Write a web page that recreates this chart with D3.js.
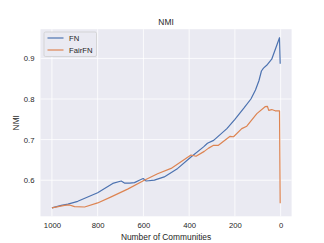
<!DOCTYPE html>
<html>
<head>
<meta charset="utf-8">
<script src="https://cdn.jsdelivr.net/npm/d3@7"></script>
<style>
  body { margin: 0; background: #fff; }
  text { font-family: "Liberation Sans", Arial, sans-serif; fill: #262626; }
</style>
</head>
<body>
<div id="chart"></div>
<script>
var fnX = [1000, 959, 930, 887, 800, 734, 697, 683, 660, 639, 618, 601, 588, 552, 509, 450, 392, 337, 320, 293, 235, 200, 160, 130, 110, 95, 84, 75, 61, 39, 5, 2],
    fnY = [0.532, 0.538, 0.541, 0.548, 0.569, 0.592, 0.598, 0.593, 0.593, 0.594, 0.600, 0.604, 0.598, 0.600, 0.608, 0.629, 0.657, 0.682, 0.691, 0.698, 0.727, 0.750, 0.778, 0.800, 0.822, 0.845, 0.869, 0.876, 0.883, 0.898, 0.951, 0.887];

var fairX = [1000, 945, 923, 901, 857, 800, 741, 669, 596, 538, 479, 392, 370, 334, 315, 293, 272, 221, 206, 170, 148, 104, 68, 58, 52, 39, 24, 5, 2],
    fairY = [0.532, 0.538, 0.539, 0.535, 0.534, 0.544, 0.559, 0.578, 0.600, 0.616, 0.629, 0.662, 0.659, 0.671, 0.679, 0.686, 0.686, 0.708, 0.707, 0.727, 0.733, 0.764, 0.781, 0.782, 0.772, 0.774, 0.771, 0.771, 0.543];

var xTicks = [1000, 800, 600, 400, 200, 0],
    yTicks = [0.6, 0.7, 0.8, 0.9];

var seriesNames = ["FN", "FairFN"],
    colors = ["#4C72B0", "#DD8452"];

var W = 324, H = 243,
    plotL = 40.5, plotR = 291.6, plotT = 29.2, plotB = 216.3;

var svg = d3.select("#chart").append("svg")
    .attr("width", W)
    .attr("height", H);

// 5% padding like matplotlib
var allX = fnX.concat(fairX), allY = fnY.concat(fairY);
var xe = d3.extent(allX), ye = d3.extent(allY);
var xp = (xe[1] - xe[0]) * 0.05, yp = (ye[1] - ye[0]) * 0.05;

var x = d3.scaleLinear().domain([xe[1] + xp, xe[0] - xp]).range([plotL, plotR]);
var y = d3.scaleLinear().domain([ye[0] - yp, ye[1] + yp]).range([plotB, plotT]);

svg.append("rect")
    .attr("x", plotL).attr("y", plotT)
    .attr("width", plotR - plotL).attr("height", plotB - plotT)
    .attr("fill", "#EAEAF2");

// grid
svg.append("g").selectAll("line")
    .data(xTicks).enter().append("line")
    .attr("x1", d => x(d)).attr("x2", d => x(d))
    .attr("y1", plotT).attr("y2", plotB)
    .attr("stroke", "#fff").attr("stroke-width", 0.8);

svg.append("g").selectAll("line")
    .data(yTicks).enter().append("line")
    .attr("y1", d => y(d)).attr("y2", d => y(d))
    .attr("x1", plotL).attr("x2", plotR)
    .attr("stroke", "#fff").attr("stroke-width", 0.8);

// axes (labels only)
var xAxis = svg.append("g")
    .attr("transform", "translate(0," + plotB + ")")
    .call(d3.axisBottom(x).tickValues(xTicks).tickSize(0).tickPadding(6).tickFormat(d3.format("d")));
var yAxis = svg.append("g")
    .attr("transform", "translate(" + plotL + ",0)")
    .call(d3.axisLeft(y).tickValues(yTicks).tickSize(0).tickPadding(6).tickFormat(d3.format(".1f")));
[xAxis, yAxis].forEach(function(a) {
    a.select(".domain").remove();
    a.selectAll("text").style("font-size", "7.7px").attr("fill", "#262626")
        .style("font-family", "'Liberation Sans', Arial, sans-serif");
});

var line = d3.line()
    .x(d => x(d[0]))
    .y(d => y(d[1]));

var series = [d3.zip(fnX, fnY), d3.zip(fairX, fairY)];

svg.append("g").selectAll("path")
    .data(series).enter().append("path")
    .attr("d", line)
    .attr("fill", "none")
    .attr("stroke", (d, i) => colors[i])
    .attr("stroke-width", 1.2)
    .attr("stroke-linejoin", "round");

// title and labels
svg.append("text")
    .attr("x", (plotL + plotR) / 2).attr("y", 25)
    .attr("text-anchor", "middle")
    .style("font-size", "8.4px")
    .text("NMI");

svg.append("text")
    .attr("x", (plotL + plotR) / 2).attr("y", 239.5)
    .attr("text-anchor", "middle")
    .style("font-size", "8.4px")
    .text("Number of Communities");

svg.append("text")
    .attr("transform", "translate(19," + ((plotT + plotB) / 2) + ") rotate(-90)")
    .attr("text-anchor", "middle")
    .style("font-size", "8.4px")
    .text("NMI");

// legend
var lg = svg.append("g").attr("transform", "translate(44,32)");
lg.append("rect")
    .attr("width", 52.5).attr("height", 24.5)
    .attr("rx", 1.5)
    .attr("fill", "#EAEAF2")
    .attr("stroke", "#cccccc")
    .attr("stroke-width", 0.7);
seriesNames.forEach(function(name, i) {
    var yy = 6 + i * 12;
    lg.append("line")
        .attr("x1", 3.5).attr("x2", 19.5)
        .attr("y1", yy).attr("y2", yy)
        .attr("stroke", colors[i]).attr("stroke-width", 1.2);
    lg.append("text")
        .attr("x", 25).attr("y", yy + 2.7)
        .style("font-size", "7.7px")
        .text(name);
});
</script>
</body>
</html>
